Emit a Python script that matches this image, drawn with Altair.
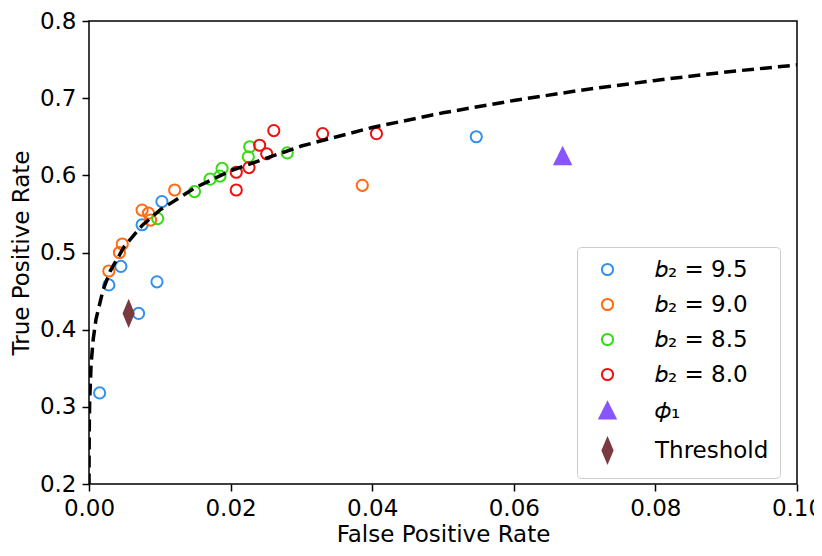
import altair as alt
import pandas as pd

# ---- data ----
series_names = ["𝑏₂ = 9.5", "𝑏₂ = 9.0", "𝑏₂ = 8.5", "𝑏₂ = 8.0", "𝜙₁", "Threshold"]

b95_x = [0.0015, 0.0028, 0.0045, 0.0070, 0.0075, 0.0096, 0.0103, 0.0547]
b95_y = [0.318, 0.458, 0.482, 0.421, 0.536, 0.462, 0.566, 0.650]

b90_x = [0.0028, 0.0043, 0.0047, 0.0075, 0.0084, 0.0087, 0.0121, 0.0386]
b90_y = [0.476, 0.500, 0.511, 0.555, 0.551, 0.542, 0.581, 0.587]

b85_x = [0.0097, 0.0149, 0.0171, 0.0185, 0.0188, 0.0225, 0.0227, 0.0280]
b85_y = [0.544, 0.579, 0.595, 0.599, 0.609, 0.624, 0.637, 0.629]

b80_x = [0.0208, 0.0208, 0.0226, 0.0241, 0.0251, 0.0261, 0.0330, 0.0406]
b80_y = [0.581, 0.604, 0.610, 0.639, 0.628, 0.658, 0.654, 0.654]

phi_x = [0.0669]
phi_y = [0.625]

thr_x = [0.0056]
thr_y = [0.421]

curve_x = [0.000003, 0.00001, 0.00005, 0.0001, 0.0003, 0.0006, 0.001, 0.002, 0.003,
           0.005, 0.0075, 0.01, 0.015, 0.02, 0.03, 0.04, 0.05, 0.06, 0.07, 0.08, 0.09, 0.10]
curve_y = [0.198, 0.231, 0.283, 0.309, 0.356, 0.388, 0.414, 0.452, 0.476,
           0.508, 0.535, 0.555, 0.584, 0.606, 0.638, 0.662, 0.681, 0.697, 0.711, 0.723, 0.734, 0.743]

x_ticks = [0.0, 0.02, 0.04, 0.06, 0.08, 0.10]
y_ticks = [0.2, 0.3, 0.4, 0.5, 0.6, 0.7, 0.8]

stroke_colors = ["#3290f0", "#ff6a13", "#33dd11", "#ee1111", "#8855ff", "#7b3a3e"]
fill_colors = ["transparent", "transparent", "transparent", "transparent", "#8855ff", "#7b3a3e"]
# marker outlines (unit = half of the circle diameter)
shapes = ["circle", "circle", "circle", "circle",
          "M0,-1.45L1.45,1.45L-1.45,1.45Z",
          "M0,-2.15L0.9,0L0,2.15L-0.9,0Z"]

# ---- tables ----
rows = []
for name, xs, ys in zip(series_names,
                        [b95_x, b90_x, b85_x, b80_x, phi_x, thr_x],
                        [b95_y, b90_y, b85_y, b80_y, phi_y, thr_y]):
    for xv, yv in zip(xs, ys):
        rows.append({"series": name, "fpr": xv, "tpr": yv})
points_df = pd.DataFrame(rows)
curve_df = pd.DataFrame({"fpr": curve_x, "tpr": curve_y})

x_scale = alt.Scale(domain=[0, 0.1], nice=False, zero=False)
y_scale = alt.Scale(domain=[0.2, 0.8], nice=False, zero=False)
x_axis = alt.Axis(title="False Positive Rate", values=x_ticks, format=".2f", titlePadding=3)
y_axis = alt.Axis(title="True Positive Rate", values=y_ticks, format=".1f", titlePadding=6)

legend = alt.Legend(
    title=None, orient="none", legendX=488, legendY=226,
    fillColor="white", strokeColor="#cccccc", cornerRadius=4, padding=11,
    labelFont="DejaVu Sans", labelFontSize=23, labelColor="black",
    labelOffset=36, symbolOffset=8, rowPadding=11, labelLimit=300,
    symbolSize=125, symbolStrokeWidth=2,
)

points = alt.Chart(points_df).mark_point(opacity=1, strokeWidth=2, filled=False, size=125).encode(
    x=alt.X("fpr:Q", scale=x_scale, axis=x_axis),
    y=alt.Y("tpr:Q", scale=y_scale, axis=y_axis),
    stroke=alt.Stroke("series:N", scale=alt.Scale(domain=series_names, range=stroke_colors), legend=legend),
    fill=alt.Fill("series:N", scale=alt.Scale(domain=series_names, range=fill_colors), legend=legend),
    shape=alt.Shape("series:N", scale=alt.Scale(domain=series_names, range=shapes), legend=legend),
)

line = alt.Chart(curve_df).mark_line(color="black", strokeWidth=3.5, strokeDash=[12, 6], clip=True).encode(
    x=alt.X("fpr:Q", scale=x_scale),
    y=alt.Y("tpr:Q", scale=y_scale),
)

chart = alt.layer(points, line).properties(
    width=708, height=463,
    padding={"left": 81, "top": 13, "right": 17, "bottom": 64},
    autosize=alt.AutoSizeParams(type="none"),
).configure_view(stroke="black", strokeWidth=1.5).configure_axis(
    grid=False, domain=False, tickColor="black", tickWidth=1.5, tickSize=7,
    labelFont="DejaVu Sans", labelFontSize=23, labelColor="black", labelPadding=6,
    labelFlush=False, labelOverlap=False,
    titleFont="DejaVu Sans", titleFontSize=23, titleFontWeight="normal", titleColor="black",
)

chart.save("out.html", embed_options={"renderer": "svg", "actions": False})
